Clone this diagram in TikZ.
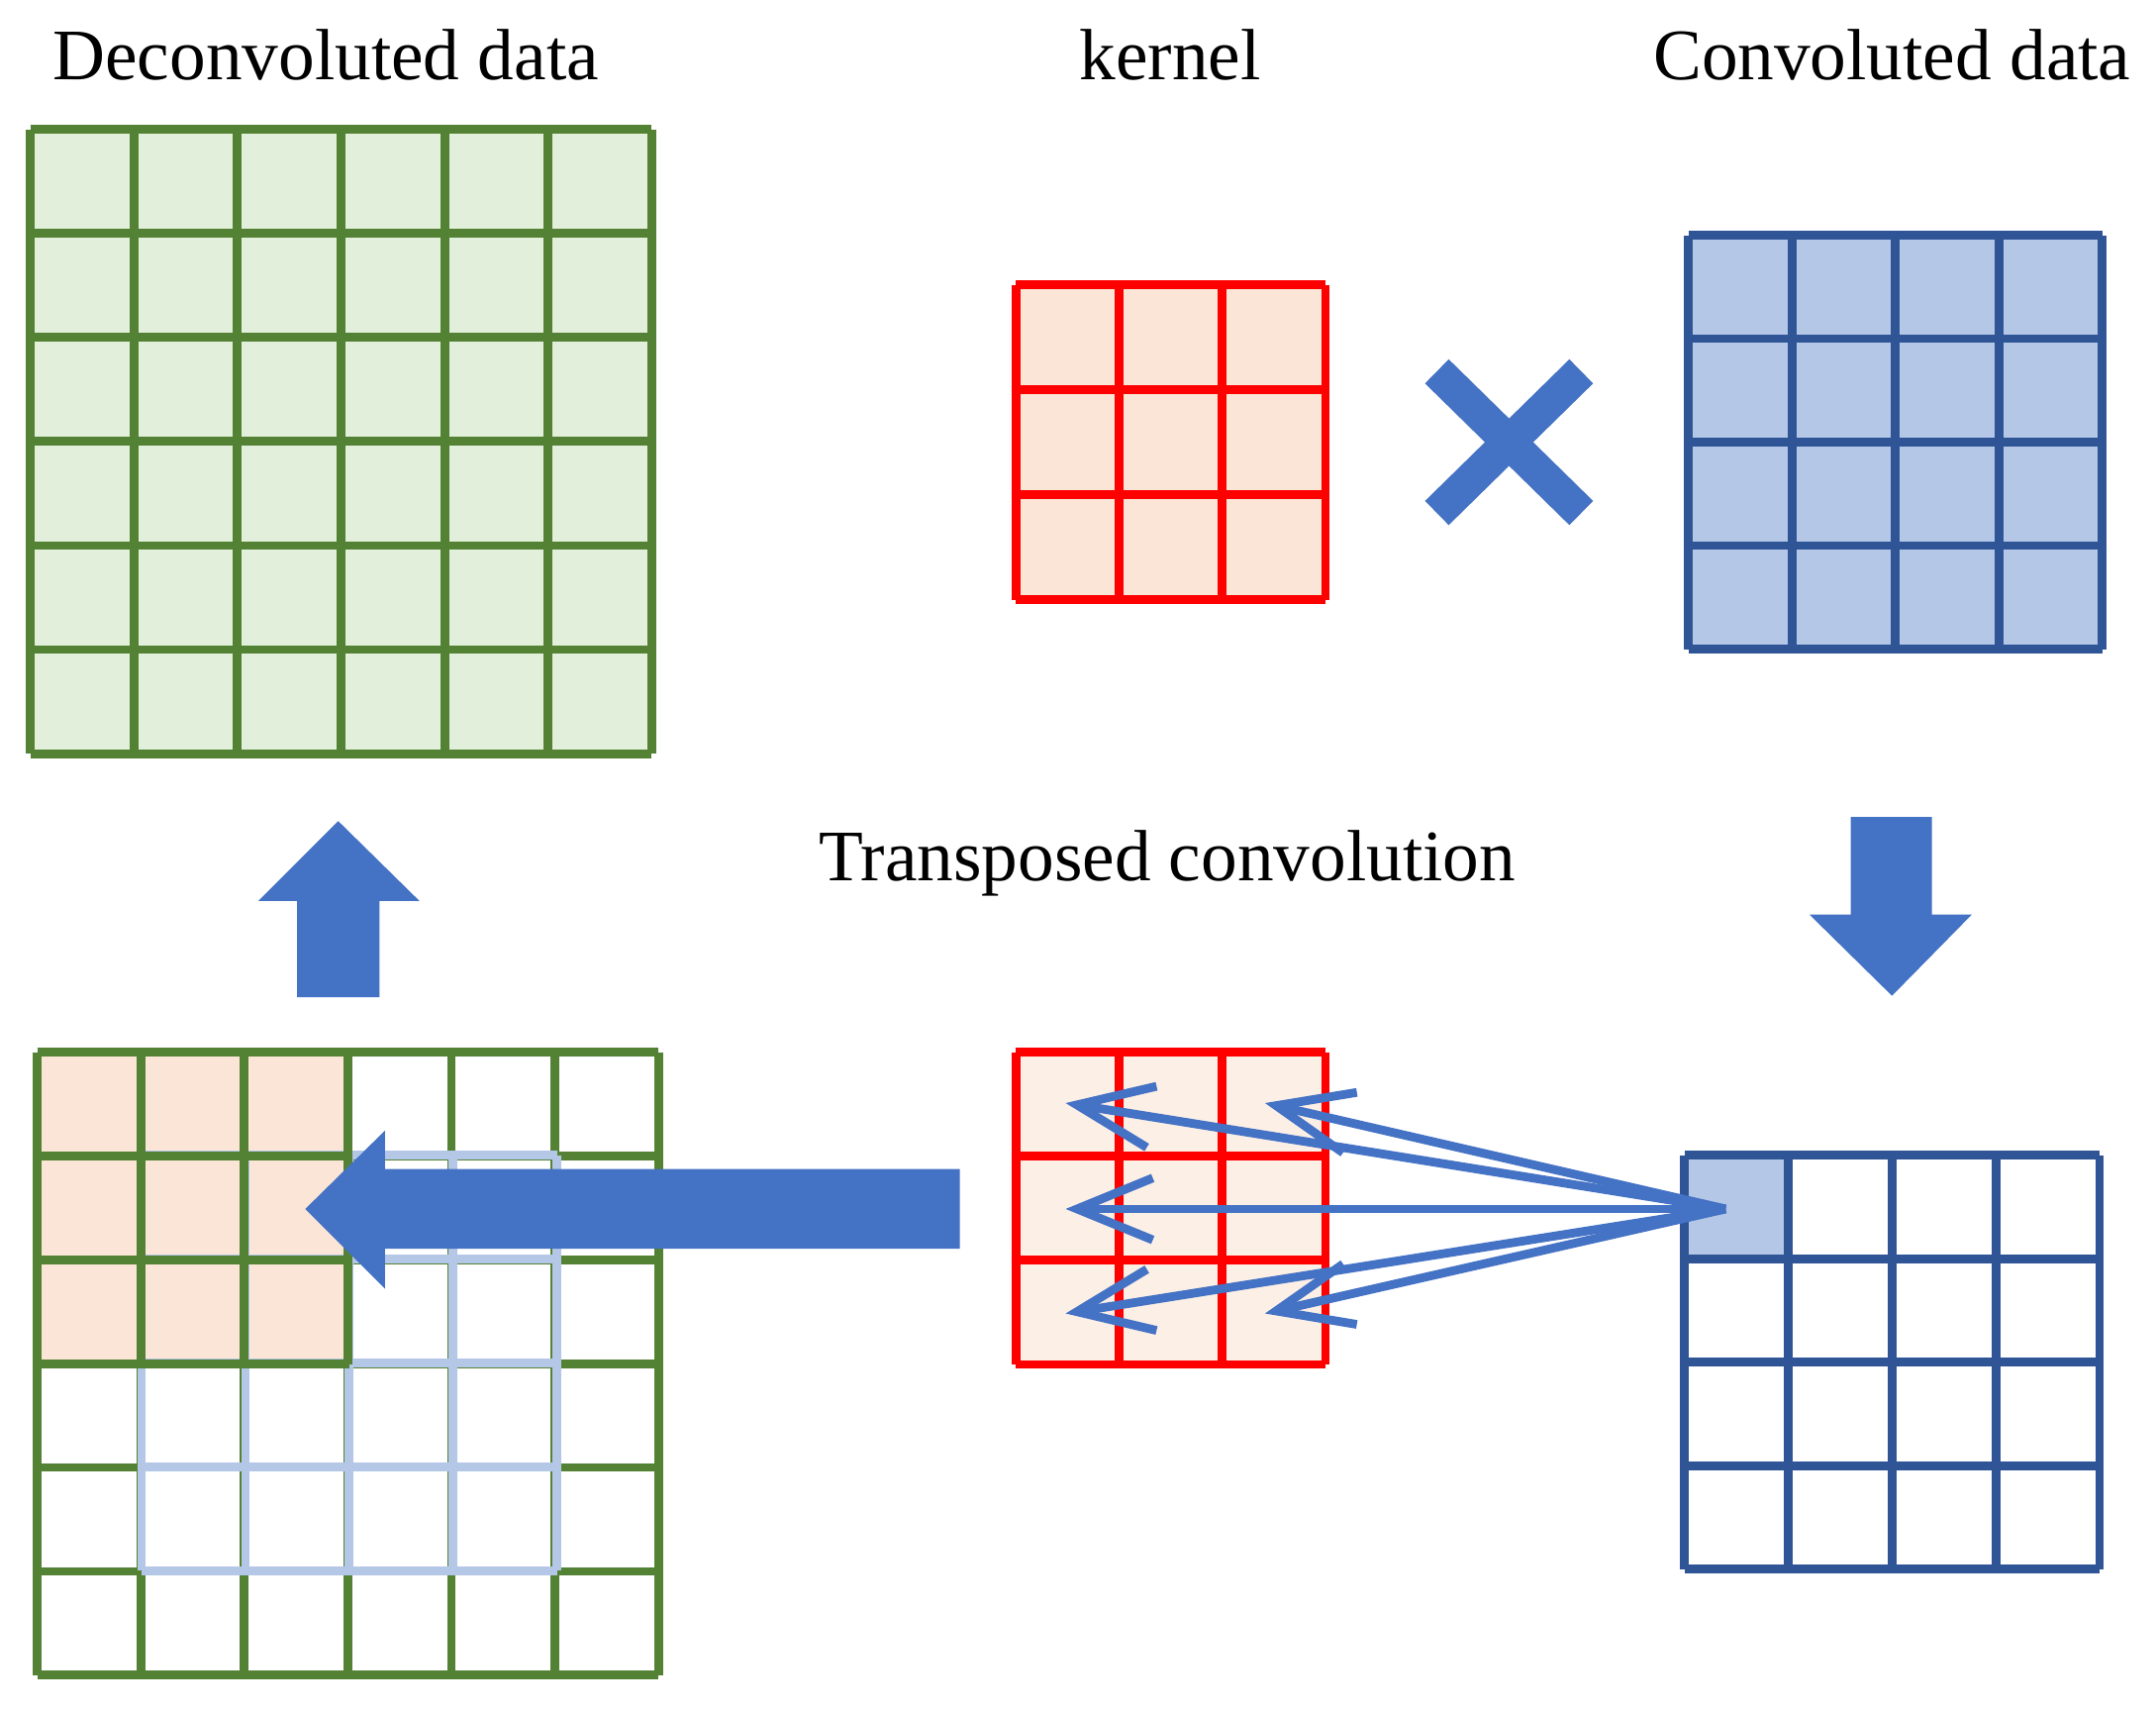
\documentclass[tikz,border=0pt]{standalone}
\usepackage{fontspec}
\setmainfont{Liberation Serif}
\usetikzlibrary{arrows.meta}
\definecolor{gline}{HTML}{548235}
\definecolor{gfill}{HTML}{E2EFDA}
\definecolor{bline}{HTML}{2F5597}
\definecolor{bfill}{HTML}{B4C7E7}
\definecolor{rfill}{HTML}{FBE5D6}
\definecolor{rfill2}{HTML}{FCEFE6}
\definecolor{arr}{HTML}{4472C4}
\tikzset{gridline/.style={line width=1.8pt},
 lab/.style={font=\fontsize{15}{18}\selectfont, anchor=center},
 thinarr/.style={arr, line width=1.8pt, -{Straight Barb[length=0.55cm,width=0.45cm]}},
 bigarr/.style={fill=arr, draw=none}}
\begin{document}
\begin{tikzpicture}[x=0.01cm,y=-0.01cm]
\useasboundingbox (0,0) rectangle (1568,1245);
% labels
\node[lab] (l1) at (237,40) {Deconvoluted data};
\node[lab] (l2) at (851,40) {kernel};
\node[lab] (l3) at (1376,40) {Convoluted data};
\node[lab] (l4) at (849,628) {Transposed convolution};
% top-left green grid
\fill[gfill] (22,94) rectangle (474,548);
\foreach \i in {0,...,6}{
 \draw[gline,gridline] ({22+\i*452/6},94) -- ({22+\i*452/6},548);
 \draw[gline,gridline] (22,{94+\i*454/6}) -- (474,{94+\i*454/6});}
% kernel top
\fill[rfill] (739,207) rectangle (964,436);
\foreach \i in {0,...,3}{
 \draw[red,gridline] ({739+\i*75},207) -- ({739+\i*75},436);
 \draw[red,gridline] (739,{207+\i*229/3}) -- (964,{207+\i*229/3});}
% X
\draw[arr,line width=7pt] (1045,270) -- (1150,373);
\draw[arr,line width=7pt] (1045,373) -- (1150,270);
% conv top
\fill[bfill] (1228,171) rectangle (1529,472);
\foreach \i in {0,...,4}{
 \draw[bline,gridline] ({1228+\i*301/4},171) -- ({1228+\i*301/4},472);
 \draw[bline,gridline] (1228,{171+\i*301/4}) -- (1529,{171+\i*301/4});}
% up arrow
\fill[bigarr] (216,725) -- (216,655) -- (188,655) -- (246,597) -- (305,655) -- (276,655) -- (276,725) -- cycle;
% down arrow
\fill[bigarr] (1346,594) -- (1346,665) -- (1316,665) -- (1376,724) -- (1434,665) -- (1405,665) -- (1405,594) -- cycle;
% bottom-left grid
\fill[rfill] (27,765) rectangle (254,992);
\foreach \i in {0,...,6}{
 \draw[gline,gridline] ({27+\i*452/6},765) -- ({27+\i*452/6},1218);
 \draw[gline,gridline] (27,{765+\i*453/6}) -- (479,{765+\i*453/6});}
\foreach \i in {0,...,4}{
 \draw[bfill,gridline] ({103+\i*302/4},840) -- ({103+\i*302/4},1142);
 \draw[bfill,gridline] (103,{840+\i*302/4}) -- (405,{840+\i*302/4});}
\foreach \i in {0,...,3}{
 \draw[gline,gridline] ({27+\i*452/6},765) -- ({27+\i*452/6},992);
 \draw[gline,gridline] (27,{765+\i*453/6}) -- (254,{765+\i*453/6});}
% big left arrow
\fill[bigarr] (698,850) -- (280,850) -- (280,822) -- (222,879) -- (280,937) -- (280,908) -- (698,908) -- cycle;
% bottom kernel
\fill[rfill2] (739,765) rectangle (964,992);
\foreach \i in {0,...,3}{
 \draw[red,gridline] ({739+\i*75},765) -- ({739+\i*75},992);
 \draw[red,gridline] (739,{765+\i*227/3}) -- (964,{765+\i*227/3});}
% bottom conv
\fill[bfill] (1225,840) rectangle (1300,915);
\foreach \i in {0,...,4}{
 \draw[bline,gridline] ({1225+\i*302/4},840) -- ({1225+\i*302/4},1141);
 \draw[bline,gridline] (1225,{840+\i*301/4}) -- (1527,{840+\i*301/4});}
% thin arrows
\coordinate (src) at (1255,879);
\coordinate (t1) at (775,802);
\coordinate (t2) at (920,802);
\coordinate (t3) at (775,879);
\coordinate (t4) at (775,955);
\coordinate (t5) at (920,955);
\foreach \t in {t1,t2,t3,t4,t5} \draw[thinarr] (src) -- (\t);
\end{tikzpicture}
\end{document}
